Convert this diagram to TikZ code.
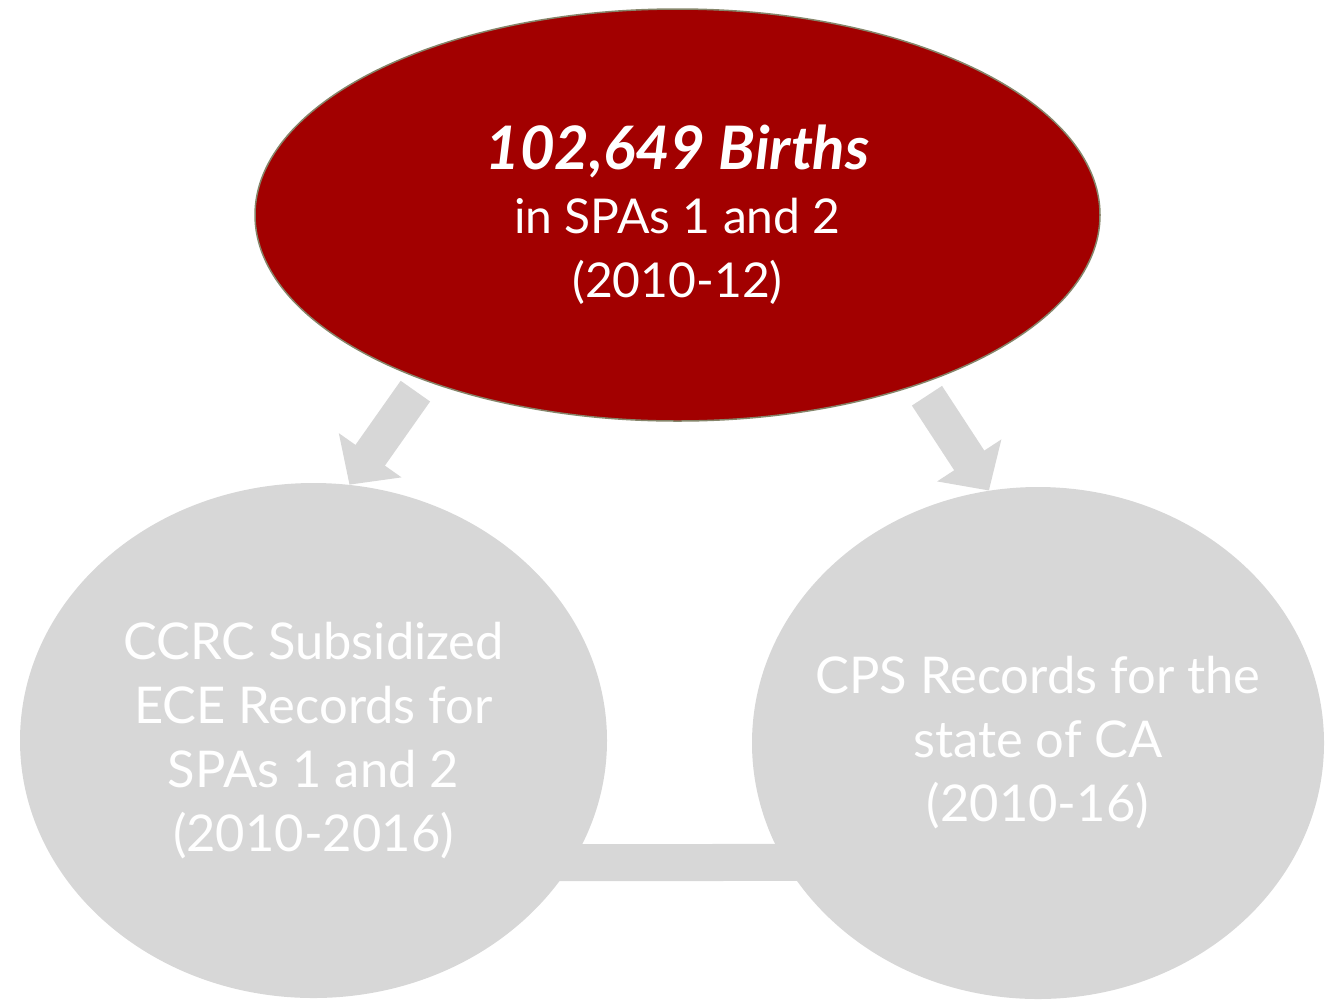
\documentclass[tikz,border=0pt]{standalone}
\usepackage{fontspec}
\setmainfont{Lato}
\usepackage{xcolor}
\usepackage{tikz}
\usetikzlibrary{arrows.meta,backgrounds,shapes.geometric}

\definecolor{birthred}{HTML}{A20000}
\definecolor{rimolive}{HTML}{85856A}
\definecolor{recgray}{HTML}{D7D7D7}
\newlength{\onepx}
\setlength{\onepx}{0.75pt}

\begin{document}
\begin{tikzpicture}[x=0.75pt,y=-0.75pt,
   bubble/.style={ellipse,inner sep=-60pt,align=center,text=white,
      font=\fontsize{38}{48}\selectfont},
   fatarrow/.style={draw=recgray,line width=27pt,
      -{Triangle[width=56pt,length=27pt]}},
   link/.style={draw=recgray,line width=27.75pt}]
\useasboundingbox (0,0) rectangle (1338,1001);
%draw ellipses
\node[bubble,fill=birthred,draw=rimolive,line width=1.5\onepx,
   minimum width=845\onepx,minimum height=412\onepx] (births) at (677.5,215)
   {{\fontsize{45}{48}\selectfont\textbf{\textit{102,649 Births}}}\\
    {\fontsize{36}{48}\selectfont in SPAs 1 and 2}\\
    {\fontsize{36}{48}\selectfont (2010-12)}};
\node[bubble,fill=recgray,minimum width=587\onepx,minimum height=515\onepx]
   (ccrc) at (313.5,740.5)
   {CCRC Subsidized\\ECE Records for\\SPAs 1 and 2\\(2010-2016)};
\node[bubble,fill=recgray,minimum width=572\onepx,minimum height=512\onepx]
   (cps) at (1038,743)
   {CPS Records for the\\state of CA\\(2010-16)};
%draw arrows
\draw[fatarrow,shorten <=10pt] (births.213) -- (ccrc.82);
\draw[fatarrow,shorten <=10pt] (births.325) -- (cps.101);
%draw link between records
\begin{scope}[on background layer]
\draw[link] ([yshift=-91.5pt]ccrc.center) -- ([yshift=-89.6pt]cps.center);
\end{scope}
\end{tikzpicture}
\end{document}
